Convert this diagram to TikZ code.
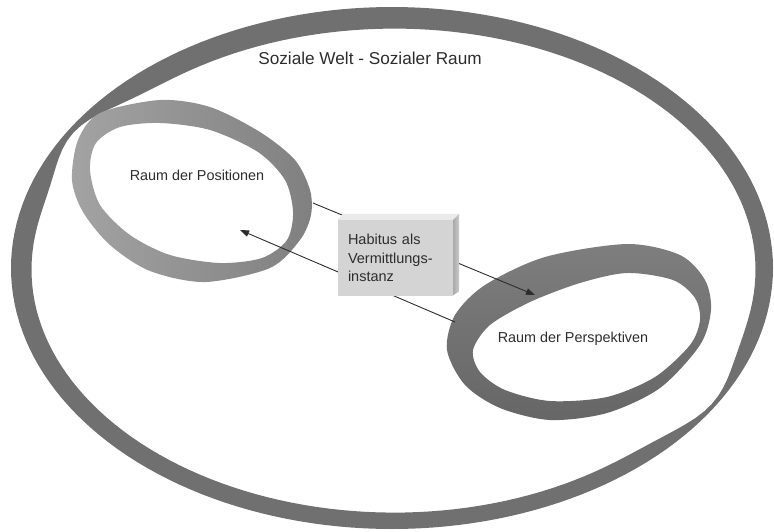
\documentclass[tikz,border=0pt]{standalone}
\usepackage{fontspec}
\setmainfont{Liberation Sans}
\usepackage{tikz}
\usetikzlibrary{arrows.meta, positioning, calc}
\definecolor{ring-dark}{RGB}{112,112,112}
\definecolor{ring-light}{RGB}{163,163,163}
\definecolor{ring-mid}{RGB}{128,128,128}
\definecolor{ring-top}{RGB}{126,126,126}
\definecolor{ring-bot}{RGB}{102,102,102}
\definecolor{box-front}{RGB}{212,212,212}
\definecolor{box-top}{RGB}{234,234,234}
\definecolor{box-side}{RGB}{170,170,170}
\definecolor{label-gray}{RGB}{45,45,45}

\begin{document}
\begin{tikzpicture}[
    x=1pt, y=-1pt,
    declare function={dang(\t)=mod(\t+58,180)-90;
        wid(\t)=(19-3*cos(\t)+3*cos(\t-300))*(1-0.75*exp(0-(dang(\t)/10)^2));},
    bigring/.style={fill=ring-dark, even odd rule},
    posring/.style={left color=ring-light, right color=ring-mid, even odd rule},
    perring/.style={top color=ring-top, bottom color=ring-bot, even odd rule},
    label/.style={font=\fontsize{14.4}{18}\selectfont, text=label-gray, inner sep=0pt},
    habbox/.style={rectangle, fill=box-front, minimum width=115pt, minimum height=76pt, text width=95pt, inner xsep=10pt, align=left, font=\fontsize{14.5}{18.5}\selectfont, text=label-gray},
    arrow/.style={-{Triangle[length=9pt, width=6.5pt]}, line width=0.9pt, draw=label-gray}
]
    \useasboundingbox (0,0) rectangle (774,531);

    % Soziale Welt
    \fill[bigring] plot[domain=0:360, samples=181] ({392+381*cos(\x)}, {268+261*sin(\x)})
        plot[domain=0:360, samples=181] ({392+(381-wid(\x))*cos(\x)}, {268+(261-wid(\x))*sin(\x)});

    % Raum der Positionen
    \shade[posring] plot[smooth cycle] coordinates {(160,100) (210,107) (260,132) (295,160) (310,190) (311,215) (300,240) (270,268) (205,282) (150,271) (110,245) (83,212) (72,180) (78,140) (100,113)}
        plot[smooth cycle] coordinates {(160,123) (210,130) (258,152) (285,180) (293,212) (287,240) (262,258) (220,263) (170,255) (130,235) (100,205) (90,170) (96,143) (120,127)};

    % Raum der Perspektiven
    \shade[perring] plot[smooth cycle] coordinates {(627,244) (680,255) (705,280) (711,310) (700,345) (660,388) (607,413) (550,420) (500,408) (465,385) (447,350) (455,315) (485,285) (545,257)}
        plot[smooth cycle] coordinates {(627,273) (673,280) (695,298) (700,320) (690,345) (655,377) (607,397) (550,401) (505,390) (480,372) (473,350) (490,325) (530,302) (580,283)};

    \coordinate (posout) at (313,203);
    \coordinate (posin) at (240,230);
    \coordinate (perin) at (535,295);
    \coordinate (perout) at (455,322);

    \draw[arrow] (posout) -- (perin);
    \draw[arrow] (perout) -- (posin);

    % Habitus
    \node[habbox] (habitus) at (395.5,258) {Habitus als\\Vermittlungs-\\instanz};
    \fill[box-top] (habitus.north west) -- ++(5,-6) -- ($(habitus.north east)+(6,-6)$) -- (habitus.north east) -- cycle;
    \shade[left color=box-side, right color=box-front!80!box-side] (habitus.north east) -- ++(6,-6) -- ($(habitus.south east)+(6,-5)$) -- ($(habitus.south east)+(0,-1)$) -- cycle;

    % Labels
    \node[label, font=\fontsize{17.2}{20}\selectfont] (title) at (370,58) {Soziale Welt - Sozialer Raum};
    \node[label] (lpos) at (197,175) {Raum der Positionen};
    \node[label] (lper) at (573,339) {Raum der Perspektiven};
\end{tikzpicture}
\end{document}
